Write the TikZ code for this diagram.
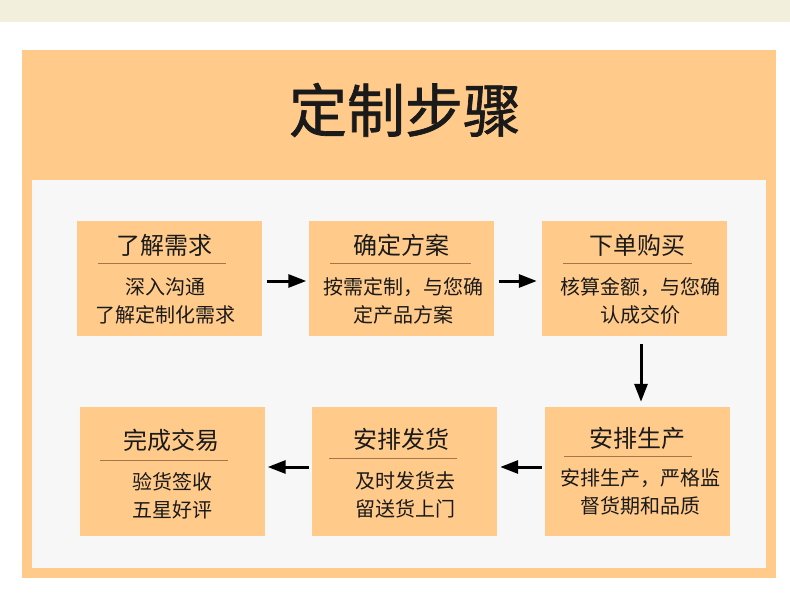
\documentclass[tikz,border=0pt]{standalone}
\usepackage{fontspec}
\newfontfamily\cjk{Noto Sans CJK SC}
\newfontfamily\cjkhead[FakeBold=1.2]{Noto Sans CJK SC}
\usepackage{tikz}
\usetikzlibrary{arrows.meta}
\definecolor{stripbeige}{HTML}{F2EFDC}
\definecolor{frameorange}{HTML}{FFCA8A}
\definecolor{panelgray}{HTML}{F7F7F7}
\definecolor{rulebrown}{HTML}{A4764C}
\definecolor{inkdark}{HTML}{1A1A1A}

\begin{document}
\begin{tikzpicture}
                        [x=1pt, y=-1pt,
                         card/.style={fill=frameorange, inner sep=0pt, minimum width=185pt},
                         cardtitle/.style={font=\cjk\fontsize{24}{24}\selectfont, text=inkdark},
                         cardtext/.style={font=\cjk\fontsize{20}{28}\selectfont, align=center, text=inkdark},
                         cardrule/.style={draw=rulebrown, line width=1pt},
                         flow/.style={draw=black, line width=3pt, -{Triangle[length=18pt,width=13pt]}}]

                        \useasboundingbox (0,0) rectangle (790,596);
                        \fill[white] (0,0) rectangle (790,596);
                        \fill[stripbeige] (0,0) rectangle (790,22);
                        \fill[frameorange] (22,50) rectangle (776,578);
                        \fill[panelgray] (32,180) rectangle (766,568);

                        \node[font=\cjkhead\fontsize{58}{58}\selectfont, text=inkdark] (heading) at (405,110) {定制步骤};

                        % top row
                        \node[card, minimum height=115pt] (need) at (169.5,278.5) {};
                        \node[cardtitle] (needtitle) at (164,245) {了解需求};
                        \draw[cardrule] (98,264) -- (226,264);
                        \node[cardtext] (needtext) at (165,301) {深入沟通\\了解定制化需求};

                        \node[card, minimum height=115pt] (plan) at (401,278.5) {};
                        \node[cardtitle] (plantitle) at (401.5,245) {确定方案};
                        \draw[cardrule] (330,264) -- (471,264);
                        \node[cardtext] (plantext) at (403,301) {按需定制，与您确\\定产品方案};

                        \node[card, minimum height=115pt] (order) at (634.5,278.5) {};
                        \node[cardtitle] (ordertitle) at (637,245) {下单购买};
                        \draw[cardrule] (563,264) -- (692,264);
                        \node[cardtext] (ordertext) at (640,301) {核算金额，与您确\\认成交价};

                        % bottom row
                        \node[card, minimum height=129pt] (make) at (637.5,471.5) {};
                        \node[cardtitle] (maketitle) at (637,438) {安排生产};
                        \draw[cardrule] (564,456) -- (692,456);
                        \node[cardtext] (maketext) at (640.5,492) {安排生产，严格监\\督货期和品质};

                        \node[card, minimum height=129pt] (ship) at (404.5,471.5) {};
                        \node[cardtitle] (shiptitle) at (401,439) {安排发货};
                        \draw[cardrule] (329,458) -- (457,458);
                        \node[cardtext] (shiptext) at (405,495) {及时发货去\\留送货上门};

                        \node[card, minimum height=129pt] (done) at (172,471.5) {};
                        \node[cardtitle] (donetitle) at (171.5,440) {完成交易};
                        \draw[cardrule] (100,460) -- (228,460);
                        \node[cardtext] (donetext) at (172.5,496) {验货签收\\五星好评};

                        % arrows
                        \draw[flow, shorten <=5pt, shorten >=2pt] ([yshift=-2.5pt]need.east) -- ([yshift=-2.5pt]plan.west);
                        \draw[flow, shorten <=5pt, shorten >=5pt] ([yshift=-2.5pt]plan.east) -- ([yshift=-2.5pt]order.west);
                        \draw[flow, shorten <=8pt, shorten >=5pt] ([xshift=6.5pt]order.south) -- ([xshift=3.5pt]make.north);
                        \draw[flow, shorten <=3pt, shorten >=3pt] ([yshift=4.5pt]make.west) -- ([yshift=4.5pt]ship.east);
                        \draw[flow, shorten <=3pt, shorten >=3pt] ([yshift=4.5pt]ship.west) -- ([yshift=4.5pt]done.east);
                    \end{tikzpicture}
\end{document}
